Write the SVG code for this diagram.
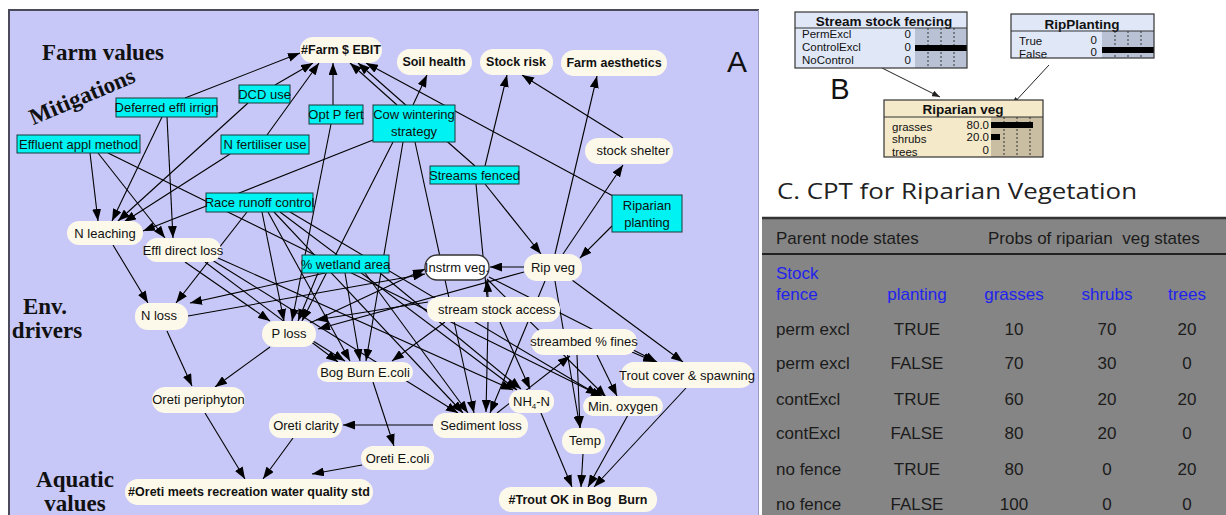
<svg xmlns="http://www.w3.org/2000/svg" width="1226" height="515" viewBox="0 0 1226 515">
  <defs>
    <marker id="ah" viewBox="0 0 12 9" refX="12" refY="4.5" markerWidth="12" markerHeight="9" markerUnits="userSpaceOnUse" orient="auto">
      <path d="M0,0 L12,4.5 L0,9 z" fill="#000"/>
    </marker>
    <marker id="ahs" viewBox="0 0 8 6" refX="8" refY="3" markerWidth="8" markerHeight="6" markerUnits="userSpaceOnUse" orient="auto">
      <path d="M0,0 L8,3 L0,6 z" fill="#222"/>
    </marker>
    <style>
      .lbl { font-family: "Liberation Serif", serif; font-weight: bold; font-size: 23px; fill: #111; }
      .cn { fill: #fdf9ea; stroke: none; }
      .mit { fill: #00f2f2; stroke: #1a3838; stroke-width: 1; }
      .t { font-family: "Liberation Sans", Arial, sans-serif; font-size: 13px; fill: #111; text-anchor: middle; }
      .tb { font-family: "Liberation Sans", Arial, sans-serif; font-size: 12.5px; font-weight: bold; fill: #111; text-anchor: middle; }
      #connectors line { stroke: #000; stroke-width: 1.1; marker-end: url(#ah); }
      .nb { fill: #111; font-family: "Liberation Sans", Arial, sans-serif; font-size: 11.5px; }
      .nbt { font-family: "Liberation Sans", Arial, sans-serif; font-size: 13.5px; font-weight: bold; fill: #111; text-anchor: middle; }
      .dash { stroke: #333; stroke-width: 1; stroke-dasharray: 2 2; }
      .ct { font-family: "Liberation Sans", Arial, sans-serif; font-size: 17px; fill: #1b1b1b; }
      .cb { font-family: "Liberation Sans", Arial, sans-serif; font-size: 17px; fill: #2222ee; }
      .mid { text-anchor: middle; }
    </style>
  </defs>

  <rect x="0" y="0" width="1226" height="515" fill="#fff"/>

  <!-- Panel A: network -->
  <rect x="8" y="9" width="751" height="510" fill="#c8c8f8"/>
  <path d="M9,515 V10 H759" fill="none" stroke="#4a4a5a" stroke-width="2"/>
  <line x1="758.5" y1="10" x2="758.5" y2="515" stroke="#9a9ac0" stroke-width="1"/>

  <text class="lbl" x="103" y="60" text-anchor="middle">Farm values</text>
  <text class="lbl" x="82" y="104" text-anchor="middle" transform="rotate(-23 82 96)">Mitigations</text>
  <text class="lbl" x="45" y="314" text-anchor="middle">Env.</text>
  <text class="lbl" x="47" y="338" text-anchor="middle">drivers</text>
  <text class="lbl" x="75" y="487" text-anchor="middle">Aquatic</text>
  <text class="lbl" x="75" y="511" text-anchor="middle">values</text>
  <text x="737" y="72" font-family="Liberation Sans, Arial, sans-serif" font-size="30" fill="#111" text-anchor="middle">A</text>

  <g id="connectors">
    <!-- farm value links -->
    <line x1="185" y1="98" x2="300" y2="53"/>
    <line x1="275" y1="85" x2="313" y2="63"/>
    <line x1="267" y1="135" x2="319" y2="63"/>
    <line x1="333" y1="105" x2="333" y2="63"/>
    <line x1="397" y1="105" x2="350" y2="63"/>
    <line x1="475" y1="166" x2="358" y2="63"/>
    <line x1="613" y1="196" x2="366" y2="63"/>
    <line x1="413" y1="105" x2="427" y2="75"/>
    <line x1="485" y1="166" x2="507" y2="75"/>
    <line x1="623" y1="138" x2="522" y2="75"/>
    <line x1="555" y1="254" x2="597" y2="76"/>
    <line x1="563" y1="254" x2="623" y2="165"/>
    <line x1="485" y1="184" x2="541" y2="254"/>
    <line x1="612" y1="226" x2="580" y2="258"/>
    <line x1="476" y1="184" x2="487" y2="297" style="marker-end:none"/>
    <!-- mitigation to driver links -->
    <line x1="90" y1="153" x2="98" y2="221"/>
    <line x1="98" y1="153" x2="165" y2="238"/>
    <line x1="108" y1="153" x2="603" y2="397"/>
    <line x1="162" y1="117" x2="112" y2="221"/>
    <line x1="167" y1="117" x2="173" y2="238"/>
    <line x1="248" y1="103" x2="118" y2="221"/>
    <line x1="230" y1="154" x2="124" y2="222"/>
    <line x1="373" y1="140" x2="143" y2="231"/>
    <line x1="113" y1="245" x2="148" y2="303"/>
    <line x1="247" y1="212" x2="176" y2="303"/>
    <line x1="185" y1="262" x2="270" y2="321"/>
    <line x1="205" y1="262" x2="338" y2="362"/>
    <line x1="212" y1="260" x2="458" y2="413"/>
    <line x1="218" y1="258" x2="513" y2="390"/>
    <line x1="262" y1="212" x2="284" y2="321"/>
    <line x1="268" y1="212" x2="350" y2="361"/>
    <line x1="274" y1="212" x2="463" y2="413"/>
    <line x1="280" y1="212" x2="517" y2="390"/>
    <line x1="290" y1="212" x2="598" y2="395"/>
    <line x1="325" y1="273" x2="190" y2="303"/>
    <line x1="318" y1="273" x2="298" y2="321"/>
    <line x1="345" y1="273" x2="360" y2="361"/>
    <line x1="365" y1="273" x2="468" y2="413"/>
    <line x1="380" y1="273" x2="521" y2="389"/>
    <line x1="331" y1="124" x2="292" y2="321"/>
    <line x1="393" y1="142" x2="302" y2="321"/>
    <line x1="403" y1="142" x2="366" y2="361"/>
    <line x1="415" y1="142" x2="474" y2="413"/>
    <!-- environmental driver links -->
    <line x1="188" y1="316" x2="425" y2="274"/>
    <line x1="310" y1="323" x2="425" y2="269"/>
    <line x1="313" y1="341" x2="345" y2="361"/>
    <line x1="167" y1="331" x2="192" y2="386"/>
    <line x1="270" y1="347" x2="215" y2="387"/>
    <line x1="428" y1="302" x2="316" y2="320"/>
    <line x1="524" y1="272" x2="318" y2="329"/>
    <line x1="445" y1="322" x2="392" y2="361"/>
    <line x1="488" y1="322" x2="486" y2="412"/>
    <line x1="500" y1="322" x2="530" y2="389"/>
    <line x1="488" y1="297" x2="487" y2="280"/>
    <line x1="524" y1="267" x2="490" y2="267"/>
    <line x1="545" y1="281" x2="490" y2="413"/>
    <line x1="555" y1="281" x2="580" y2="428"/>
    <line x1="572" y1="280" x2="683" y2="362"/>
    <line x1="489" y1="277" x2="657" y2="362"/>
    <line x1="487" y1="279" x2="606" y2="397"/>
    <line x1="497" y1="413" x2="570" y2="356"/>
    <line x1="577" y1="355" x2="580" y2="428"/>
    <line x1="597" y1="355" x2="617" y2="396"/>
    <line x1="632" y1="352" x2="655" y2="362"/>
    <!-- aquatic value links -->
    <line x1="433" y1="425" x2="343" y2="425"/>
    <line x1="373" y1="382" x2="394" y2="446"/>
    <line x1="205" y1="413" x2="245" y2="479"/>
    <line x1="293" y1="438" x2="263" y2="479"/>
    <line x1="362" y1="465" x2="312" y2="474"/>
    <line x1="541" y1="413" x2="572" y2="487"/>
    <line x1="583" y1="454" x2="581" y2="487"/>
    <line x1="628" y1="415" x2="588" y2="487"/>
    <line x1="686" y1="388" x2="594" y2="487"/>
  </g>

  <!-- value nodes -->
  <g id="farm-ebit"><rect class="cn" x="300" y="37" width="82" height="26" rx="13"/><text class="tb" x="341" y="54">#Farm $ EBIT</text></g>
  <g id="soil-health"><rect class="cn" x="397" y="49" width="75" height="26" rx="13"/><text class="tb" x="434" y="66">Soil health</text></g>
  <g id="stock-risk"><rect class="cn" x="480" y="49" width="73" height="26" rx="13"/><text class="tb" x="516" y="66">Stock risk</text></g>
  <g id="farm-aesthetics"><rect class="cn" x="561" y="50" width="106" height="26" rx="13"/><text class="tb" x="614" y="67">Farm aesthetics</text></g>
  <g id="stock-shelter"><rect class="cn" x="585" y="138" width="88" height="26" rx="13"/><text class="t" x="633" y="155">stock shelter</text></g>

  <!-- mitigation nodes -->
  <g id="deferred-effl"><rect class="mit" x="116" y="98" width="101" height="19"/><text class="t" x="166.5" y="112">Deferred effl irrign</text></g>
  <g id="dcd-use"><rect class="mit" x="239" y="85" width="51" height="18"/><text class="t" x="264.5" y="99">DCD use</text></g>
  <g id="opt-p-fert"><rect class="mit" x="309" y="105" width="54" height="19"/><text class="t" x="336" y="119">Opt P fert</text></g>
  <g id="cow-wintering"><rect class="mit" x="373" y="105" width="82" height="37"/><text class="t" x="414" y="119">Cow wintering</text><text class="t" x="414" y="136">strategy</text></g>
  <g id="effluent-appl"><rect class="mit" x="17" y="135" width="123" height="18"/><text class="t" x="78.5" y="149">Effluent appl method</text></g>
  <g id="n-fertiliser"><rect class="mit" x="221" y="135" width="88" height="19"/><text class="t" x="265" y="149">N fertiliser use</text></g>
  <g id="streams-fenced"><rect class="mit" x="430" y="166" width="89" height="18"/><text class="t" x="474.5" y="180">Streams fenced</text></g>
  <g id="riparian-planting"><rect class="mit" x="612" y="195" width="70" height="37"/><text class="t" x="647" y="210">Riparian</text><text class="t" x="647" y="227">planting</text></g>
  <g id="race-runoff"><rect class="mit" x="206" y="193" width="107" height="19"/><text class="t" x="259.5" y="207">Race runoff control</text></g>
  <g id="wetland-area"><rect class="mit" x="302" y="255" width="87" height="18"/><text class="t" x="345.5" y="269">% wetland area</text></g>

  <!-- driver nodes -->
  <g id="n-leaching"><rect class="cn" x="67" y="221" width="76" height="24" rx="12"/><text class="t" x="105" y="238">N leaching</text></g>
  <g id="effl-direct-loss"><rect class="cn" x="145" y="238" width="76" height="24" rx="12"/><text class="t" x="183" y="255">Effl direct loss</text></g>
  <g id="n-loss"><rect class="cn" x="135" y="303" width="53" height="27" rx="13"/><text class="t" x="159" y="320">N loss</text></g>
  <g id="p-loss"><rect class="cn" x="262" y="321" width="54" height="26" rx="13"/><text class="t" x="289" y="338">P loss</text></g>
  <g id="instrm-veg"><rect x="425" y="255" width="64" height="25" rx="12" fill="#fff" stroke="#333" stroke-width="1.3"/><text class="t" x="457" y="272">Instrm veg.</text></g>
  <g id="rip-veg"><rect class="cn" x="524" y="254" width="58" height="27" rx="13"/><text class="t" x="553" y="272">Rip veg</text></g>
  <g id="stream-stock-access"><rect class="cn" x="427" y="297" width="133" height="25" rx="12"/><text class="t" x="497" y="314">stream stock access</text></g>
  <g id="streambed-fines"><rect class="cn" x="531" y="329" width="106" height="26" rx="13"/><text class="t" x="584" y="346">streambed % fines</text></g>
  <g id="bog-burn-ecoli"><rect class="cn" x="317" y="362" width="96" height="20" rx="10"/><text class="t" x="365" y="377">Bog Burn E.coli</text></g>
  <g id="oreti-periphyton"><rect class="cn" x="152" y="387" width="93" height="26" rx="13"/><text class="t" x="198.5" y="404">Oreti periphyton</text></g>
  <g id="trout-cover"><rect class="cn" x="621" y="362" width="132" height="26" rx="13"/><text class="t" x="687" y="380">Trout cover &amp; spawning</text></g>
  <g id="nh4-n"><rect class="cn" x="509" y="390" width="45" height="23" rx="11"/><text class="t" x="531.5" y="406">NH<tspan font-size="8" dy="3">4</tspan><tspan dy="-3">-N</tspan></text></g>
  <g id="min-oxygen"><rect class="cn" x="583" y="396" width="80" height="20" rx="10"/><text class="t" x="623" y="411">Min. oxygen</text></g>
  <g id="sediment-loss"><rect class="cn" x="433" y="413" width="95" height="25" rx="12"/><text class="t" x="481" y="430">Sediment loss</text></g>
  <g id="oreti-clarity"><rect class="cn" x="269" y="413" width="73" height="25" rx="12"/><text class="t" x="306" y="430">Oreti clarity</text></g>
  <g id="temp"><rect class="cn" x="562" y="428" width="43" height="26" rx="13"/><text class="t" x="585" y="445">Temp</text></g>
  <g id="oreti-ecoli"><rect class="cn" x="361" y="446" width="73" height="24" rx="12"/><text class="t" x="397.5" y="463">Oreti E.coli</text></g>
  <g id="oreti-meets"><rect class="cn" x="125" y="479" width="248" height="26" rx="13"/><text class="tb" x="249" y="496">#Oreti meets recreation water quality std</text></g>
  <g id="trout-ok"><rect class="cn" x="499" y="487" width="158" height="25" rx="12"/><text class="tb" x="578" y="504" xml:space="preserve">#Trout OK in Bog  Burn</text></g>

  <!-- Panel B: node monitors -->
  <g id="b-connectors">
    <line x1="882" y1="68" x2="940" y2="97" stroke="#222" stroke-width="1" marker-end="url(#ahs)"/>
    <line x1="1049" y1="65" x2="1012" y2="105" stroke="#222" stroke-width="1" marker-end="url(#ahs)"/>
  </g>
  <text x="840" y="99" font-family="Liberation Sans, Arial, sans-serif" font-size="29" fill="#111" text-anchor="middle">B</text>

  <g id="stream-stock-fencing">
    <rect x="795" y="12" width="172" height="56" fill="#e0e8f8"/>
    <rect x="915" y="28" width="52" height="40" fill="#b8c2d4"/>
    <line class="dash" x1="928" y1="28" x2="928" y2="68"/>
    <line class="dash" x1="941" y1="28" x2="941" y2="68"/>
    <line class="dash" x1="954" y1="28" x2="954" y2="68"/>
    <rect x="915" y="45" width="52" height="6" fill="#000"/>
    <text class="nbt" x="884" y="26">Stream stock fencing</text>
    <text class="nb" x="802" y="38">PermExcl</text>
    <text class="nb" x="802" y="51">ControlExcl</text>
    <text class="nb" x="802" y="64">NoControl</text>
    <text class="nb" x="911" y="38" text-anchor="end">0</text>
    <text class="nb" x="911" y="51" text-anchor="end">0</text>
    <text class="nb" x="911" y="64" text-anchor="end">0</text>
    <line x1="795" y1="28" x2="967" y2="28" stroke="#333"/>
    <rect x="795" y="12" width="172" height="56" fill="none" stroke="#333" stroke-width="1.2"/>
  </g>

  <g id="rip-planting">
    <rect x="1011" y="14" width="143" height="44" fill="#e0e8f8"/>
    <rect x="1102" y="31" width="52" height="27" fill="#b8c2d4"/>
    <line class="dash" x1="1115" y1="31" x2="1115" y2="58"/>
    <line class="dash" x1="1128" y1="31" x2="1128" y2="58"/>
    <line class="dash" x1="1141" y1="31" x2="1141" y2="58"/>
    <rect x="1102" y="47" width="52" height="6" fill="#000"/>
    <text class="nbt" x="1082" y="29">RipPlanting</text>
    <text class="nb" x="1019" y="45" font-size="13">True</text>
    <text class="nb" x="1019" y="58" font-size="13">False</text>
    <text class="nb" x="1097" y="44" text-anchor="end">0</text>
    <text class="nb" x="1097" y="56" text-anchor="end">0</text>
    <line x1="1011" y1="31" x2="1154" y2="31" stroke="#333"/>
    <rect x="1011" y="14" width="143" height="44" fill="none" stroke="#333" stroke-width="1.2"/>
  </g>

  <g id="riparian-veg">
    <rect x="884" y="100" width="159" height="57" fill="#f4e9c9"/>
    <rect x="991" y="117" width="52" height="40" fill="#c9bda2"/>
    <line class="dash" x1="1004" y1="117" x2="1004" y2="157"/>
    <line class="dash" x1="1017" y1="117" x2="1017" y2="157"/>
    <line class="dash" x1="1030" y1="117" x2="1030" y2="157"/>
    <rect x="991" y="122" width="42" height="6" fill="#000"/>
    <rect x="991" y="134" width="9" height="6" fill="#000"/>
    <text class="nbt" x="963" y="114">Riparian veg</text>
    <text class="nb" x="892" y="131" font-size="13">grasses</text>
    <text class="nb" x="892" y="143" font-size="13">shrubs</text>
    <text class="nb" x="892" y="156" font-size="13">trees</text>
    <text class="nb" x="989" y="129" text-anchor="end" font-size="12.5">80.0</text>
    <text class="nb" x="989" y="141" text-anchor="end" font-size="12.5">20.0</text>
    <text class="nb" x="989" y="154" text-anchor="end" font-size="12.5">0</text>
    <line x1="884" y1="117" x2="1043" y2="117" stroke="#333"/>
    <rect x="884" y="100" width="159" height="57" fill="none" stroke="#333" stroke-width="1.2"/>
  </g>

  <!-- Panel C: conditional probability table -->
  <text x="777" y="199" font-family="Open Sans, Liberation Sans, sans-serif" font-size="21" fill="#222" textLength="360" lengthAdjust="spacingAndGlyphs">C. CPT for Riparian Vegetation</text>

  <g id="cpt-table">
    <rect x="762" y="218" width="464" height="297" fill="#858585"/>
    <line x1="762" y1="218" x2="1226" y2="218" stroke="#333" stroke-width="2.5"/>
    <line x1="762" y1="254" x2="1226" y2="254" stroke="#222" stroke-width="2"/>
    <text class="ct" x="776" y="244">Parent node states</text>
    <text class="ct" x="988" y="244" xml:space="preserve">Probs of riparian  veg states</text>

    <text class="cb" x="776" y="279">Stock</text>
    <text class="cb" x="776" y="300">fence</text>
    <text class="cb mid" x="917" y="300">planting</text>
    <text class="cb mid" x="1014" y="300">grasses</text>
    <text class="cb mid" x="1107" y="300">shrubs</text>
    <text class="cb mid" x="1187" y="300">trees</text>

    <text class="ct" x="776" y="335">perm excl</text>
    <text class="ct mid" x="917" y="335">TRUE</text>
    <text class="ct mid" x="1014" y="335">10</text>
    <text class="ct mid" x="1107" y="335">70</text>
    <text class="ct mid" x="1187" y="335">20</text>

    <text class="ct" x="776" y="369">perm excl</text>
    <text class="ct mid" x="917" y="369">FALSE</text>
    <text class="ct mid" x="1014" y="369">70</text>
    <text class="ct mid" x="1107" y="369">30</text>
    <text class="ct mid" x="1187" y="369">0</text>

    <text class="ct" x="776" y="405">contExcl</text>
    <text class="ct mid" x="917" y="405">TRUE</text>
    <text class="ct mid" x="1014" y="405">60</text>
    <text class="ct mid" x="1107" y="405">20</text>
    <text class="ct mid" x="1187" y="405">20</text>

    <text class="ct" x="776" y="439">contExcl</text>
    <text class="ct mid" x="917" y="439">FALSE</text>
    <text class="ct mid" x="1014" y="439">80</text>
    <text class="ct mid" x="1107" y="439">20</text>
    <text class="ct mid" x="1187" y="439">0</text>

    <text class="ct" x="776" y="475">no fence</text>
    <text class="ct mid" x="917" y="475">TRUE</text>
    <text class="ct mid" x="1014" y="475">80</text>
    <text class="ct mid" x="1107" y="475">0</text>
    <text class="ct mid" x="1187" y="475">20</text>

    <text class="ct" x="776" y="510">no fence</text>
    <text class="ct mid" x="917" y="510">FALSE</text>
    <text class="ct mid" x="1014" y="510">100</text>
    <text class="ct mid" x="1107" y="510">0</text>
    <text class="ct mid" x="1187" y="510">0</text>
  </g>
</svg>
